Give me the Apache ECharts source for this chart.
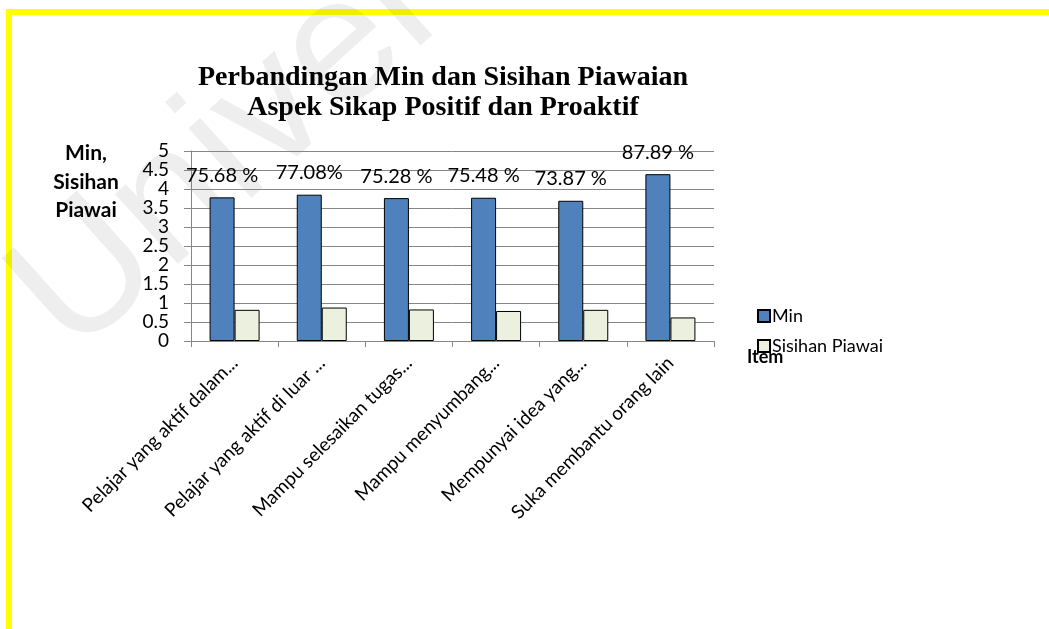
<!DOCTYPE html>
<html>
<head>
<meta charset="utf-8">
<script src="https://cdn.jsdelivr.net/npm/echarts@6/dist/echarts.min.js"></script>
<style>
html,body{margin:0;padding:0;background:#fff;}
#frame{position:absolute;left:6px;top:9px;width:1043px;height:620px;border-left:6px solid #ffff00;border-top:6px solid #ffff00;box-sizing:border-box;}
#chart{position:absolute;left:0;top:0;width:1049px;height:629px;}
</style>
</head>
<body>
<div id="frame"></div>
<div id="chart"></div>
<script>
const categories = [
  "Pelajar yang aktif dalam...",
  "Pelajar yang aktif di luar ...",
  "Mampu selesaikan tugas...",
  "Mampu menyumbang...",
  "Mempunyai idea yang...",
  "Suka membantu orang lain"
];
const minValues = [3.78, 3.85, 3.76, 3.77, 3.69, 4.39];
const sdValues = [0.82, 0.88, 0.83, 0.79, 0.82, 0.62];
const pctLabels = ["75.68 %", "77.08%", "75.28 %", "75.48 %", "73.87 %", "87.89 %"];
const yTicks = ["0", "0.5", "1", "1.5", "2", "2.5", "3", "3.5", "4", "4.5", "5"];

const chart = echarts.init(document.getElementById('chart'), null, {renderer: 'canvas'});
const sans = 'Lato';
const gray = '#868686';
chart.setOption({
  backgroundColor: 'transparent',
  animation: false,
  title: {
    text: 'Perbandingan Min dan Sisihan Piawaian\nAspek Sikap Positif dan Proaktif',
    left: 438, top: 58, textAlign: 'center',
    textStyle: {fontFamily: 'Liberation Serif', fontWeight: 'bold', fontSize: 28, lineHeight: 30, color: '#000'}
  },
  graphic: [
    {type: 'text', x: 100, y: 388, rotation: 0.733, z: -10, silent: true,
     style: {text: 'Universiti', fontFamily: 'Liberation Sans', fontSize: 178, fill: 'rgba(0,0,0,0.065)', verticalAlign: 'bottom', textVerticalAlign: 'bottom'}},
    {type: 'text', x: 86, y: 139, style: {text: 'Min,\nSisihan\nPiawai', textAlign: 'center', align: 'center', fontFamily: sans, fontWeight: 'bold', fontSize: 21, lineHeight: 28.5, fill: '#000'}},
    {type: 'text', x: 747, y: 348, style: {text: 'Item', fontFamily: sans, fontWeight: 'bold', fontSize: 18, fill: '#000'}}
  ],
  legend: {
    orient: 'vertical', left: 752, top: 302, itemGap: 12, itemWidth: 12, itemHeight: 12, icon: 'rect',
    textStyle: {fontFamily: sans, fontSize: 18, color: '#000', padding: [0,0,0,-3]},
    data: ['Min', 'Sisihan Piawai']
  },
  grid: {left: 191, right: 335, top: 151, bottom: 288, containLabel: false},
  xAxis: {
    type: 'category', data: categories,
    axisLine: {lineStyle: {color: gray, width: 1}},
    axisTick: {show: true, length: 6, lineStyle: {color: gray}, alignWithLabel: false},
    axisLabel: {rotate: 45, interval: 0, fontFamily: sans, fontSize: 19, color: '#000', margin: 19},
    splitLine: {show: false}
  },
  yAxis: {
    type: 'value', min: 0, max: 5, interval: 0.5,
    axisLine: {show: true, lineStyle: {color: gray, width: 1}},
    axisTick: {show: true, length: 7, lineStyle: {color: gray}},
    axisLabel: {fontFamily: sans, fontSize: 19, color: '#000', margin: 22,
      formatter: function (v) { return yTicks[Math.round(v * 2)]; }},
    splitLine: {show: true, lineStyle: {color: gray, width: 1}}
  },
  series: [
    {name: 'Min', type: 'bar', data: minValues, barWidth: 25, barGap: '0%',
     itemStyle: {color: '#4F81BD', borderColor: '#000', borderWidth: 1},
     label: {show: true, position: 'top', distance: 12, fontFamily: sans, fontSize: 20, color: '#000',
       formatter: function (p) { return pctLabels[p.dataIndex]; }}},
    {name: 'Sisihan Piawai', type: 'bar', data: sdValues, barWidth: 25,
     itemStyle: {color: '#EBF1DE', borderColor: '#000', borderWidth: 1}}
  ]
});
</script>
</body>
</html>
